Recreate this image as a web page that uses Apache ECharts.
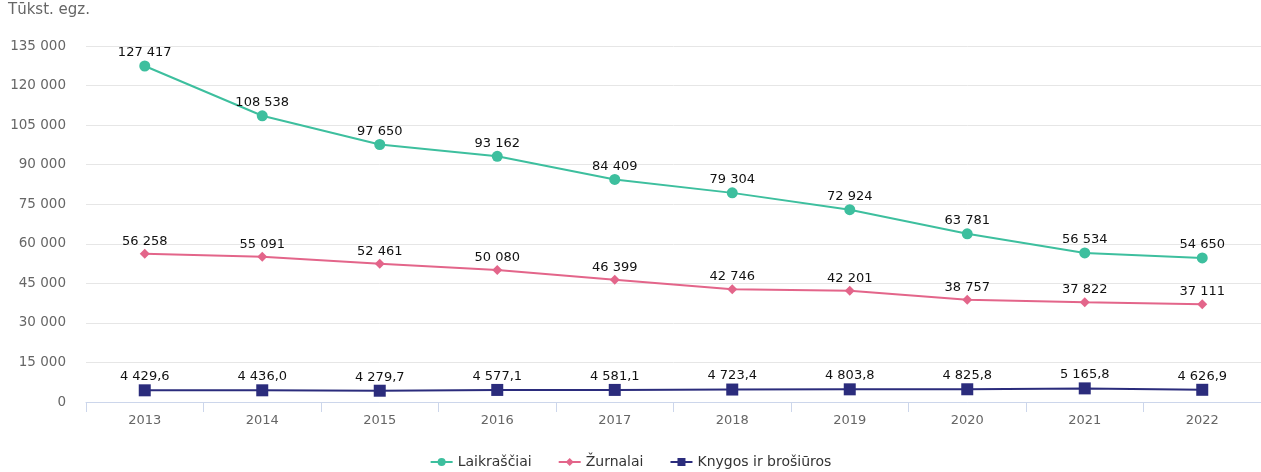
<!DOCTYPE html>
<html><head><meta charset="utf-8">
<script src="https://cdn.jsdelivr.net/npm/echarts@6/dist/echarts.min.js"></script>
<style>html,body{margin:0;padding:0;background:#fff}#c{width:1261px;height:472px}</style>
</head><body><div id="c"></div>
<script>
const years = ['2013','2014','2015','2016','2017','2018','2019','2020','2021','2022'];
const laikrasciai = [127417,108538,97650,93162,84409,79304,72924,63781,56534,54650];
const zurnalai = [56258,55091,52461,50080,46399,42746,42201,38757,37822,37111];
const knygos = [4429.6,4436.0,4279.7,4577.1,4581.1,4723.4,4803.8,4825.8,5165.8,4626.9];
const seriesNames = ['Laikraščiai','Žurnalai','Knygos ir brošiūros'];
const colors = ['#3dbf9e','#e3658a','#2b2c7c'];

function fmtInt(v){ return String(Math.round(v)).replace(/\B(?=(\d{3})+(?!\d))/g,' '); }
function fmtDec(v){ const s=v.toFixed(1).split('.'); return s[0].replace(/\B(?=(\d{3})+(?!\d))/g,' ')+','+s[1]; }
const FONT = 'DejaVu Sans';
const chart = echarts.init(document.getElementById('c'));
function mk(name, data, color, symbol, size, fmt){
  return {name, type:'line', data, color, symbol, symbolSize:size,
    lineStyle:{width:2,color}, itemStyle:{color},
    label:{show:true, position:'top', distance:1, color:'#111', fontFamily:FONT, fontSize:13,
      formatter:p=>fmt(p.value)}};
}
chart.setOption({
  animation:false,
  textStyle:{fontFamily:FONT},
  grid:{left:86,right:-8,top:46,bottom:70},
  graphic:[{type:'text',left:8,top:3,style:{text:'Tūkst. egz.',fill:'#666',font:'15px "DejaVu Sans"'}}],
  legend:{bottom:-2,left:'center',itemWidth:22,itemHeight:10,itemGap:26,
    textStyle:{color:'#333',fontSize:14,fontFamily:FONT},
    data:seriesNames},
  xAxis:{type:'category',data:years,boundaryGap:true,
    axisLine:{lineStyle:{color:'#ccd6eb'}},
    axisTick:{show:true,length:10,lineStyle:{color:'#ccd6eb'}},
    axisLabel:{color:'#666',fontSize:13,fontFamily:FONT,margin:12}},
  yAxis:{type:'value',min:0,max:135000,interval:15000,
    axisLabel:{color:'#666',fontSize:13.5,fontFamily:FONT,margin:20,formatter:v=>fmtInt(v)},
    splitLine:{lineStyle:{color:'#e6e6e6'}},axisLine:{show:false},axisTick:{show:false}},
  series:[
    mk(seriesNames[0],laikrasciai,colors[0],'circle',11,fmtInt),
    mk(seriesNames[1],zurnalai,colors[1],'diamond',10,fmtInt),
    mk(seriesNames[2],knygos,colors[2],'rect',12,fmtDec)
  ]
});
</script></body></html>
